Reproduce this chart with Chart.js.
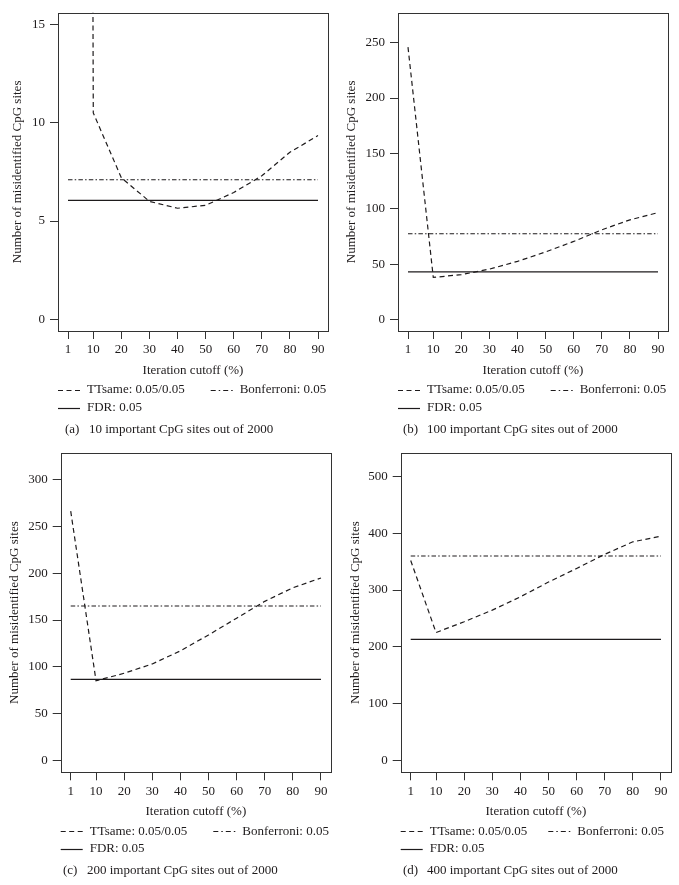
<!DOCTYPE html>
<html>
<head>
<meta charset="utf-8">
<script src="https://cdn.jsdelivr.net/npm/chart.js@4.4.1/dist/chart.umd.min.js"></script>
<style>
    body { margin: 0; background: #ffffff; width: 679px; height: 885px; position: relative; overflow: hidden; }
    canvas { position: absolute; }
</style>
</head>
<body>
<canvas id="chartA" width="340" height="440" style="left:0;top:0"></canvas>
<canvas id="chartB" width="339" height="440" style="left:340px;top:0"></canvas>
<canvas id="chartC" width="340" height="445" style="left:0;top:440px"></canvas>
<canvas id="chartD" width="339" height="445" style="left:340px;top:440px"></canvas>
<script>
// ===== DATA =====
const iterationCutoff = [1, 10, 20, 30, 40, 50, 60, 70, 80, 90];
const xTickValues = [1, 10, 20, 30, 40, 50, 60, 70, 80, 90];
const lineSpan = [1, 90];
const seriesLabels = ['TTsame: 0.05/0.05', 'Bonferroni: 0.05', 'FDR: 0.05'];

// (a) 10 important sites
const ttsameA = [420, 10.5, 7.2, 6.0, 5.65, 5.8, 6.45, 7.3, 8.5, 9.35];
const bonferroniA = [7.1, 7.1];
const fdrA = [6.05, 6.05];
const yTicksA = [0, 5, 10, 15];

// (b) 100 important sites
const ttsameB = [246, 38, 40.5, 45.5, 52.5, 61, 70.5, 81, 90, 96.5];
const bonferroniB = [77.4, 77.4];
const fdrB = [43, 43];
const yTicksB = [0, 50, 100, 150, 200, 250];

// (c) 200 important sites
const ttsameC = [266.5, 85, 93, 103, 117, 134, 152, 170, 184.5, 195];
const bonferroniC = [165, 165];
const fdrC = [86.5, 86.5];
const yTicksC = [0, 50, 100, 150, 200, 250, 300];

// (d) 400 important sites
const ttsameD = [352, 225, 244, 264.5, 288, 314, 338, 363, 385, 395];
const bonferroniD = [360, 360];
const fdrD = [213, 213];
const yTicksD = [0, 100, 200, 300, 400, 500];

const INK = '#1e1b1c';
const FRAME = '#333333';
const FONT = { family: '"Liberation Serif", "DejaVu Serif", serif', size: 13 };
const X_AXIS_H = 48;
const DASH_TT = [5, 3.5];
const DASH_BONF = [4.5, 2.2, 1.5, 2.2];

// box round the plot, legend and caption under it
const framePlugin = {
    id: 'frame',
    afterDraw(chart) {
        const { ctx, chartArea: { left, top, right, bottom } } = chart;
        const opts = chart.options.plugins.frame;
        ctx.save();
        ctx.strokeStyle = FRAME;
        ctx.lineWidth = 1;
        const l = Math.round(left) + 0.5, t = Math.round(top) + 0.5;
        ctx.strokeRect(l, t, Math.round(right) - Math.round(left), Math.round(bottom) - Math.round(top));

        ctx.font = FONT.size + 'px ' + FONT.family;
        ctx.fillStyle = INK;
        ctx.textBaseline = 'middle';
        ctx.textAlign = 'left';
        const slots = [
            { x: left, y: bottom + 59 },
            { x: left + opts.secondX, y: bottom + 59 },
            { x: left, y: bottom + 76.5 }
        ];
        chart.data.datasets.forEach((ds, i) => {
            const s = slots[i];
            ctx.beginPath();
            ctx.strokeStyle = INK;
            ctx.lineWidth = 1.2;
            ctx.setLineDash(i === 1 ? [5, 3, 1.5, 3] : (ds.borderDash || []));
            ctx.moveTo(s.x, Math.round(s.y) + 0.5);
            ctx.lineTo(s.x + 22, Math.round(s.y) + 0.5);
            ctx.stroke();
            ctx.setLineDash([]);
            ctx.fillText(ds.label, s.x + 29, s.y);
        });

        ctx.fillText(opts.tag, opts.captionX, bottom + 98.5);
        ctx.fillText(opts.caption, opts.captionX + 24, bottom + 98.5);
        ctx.restore();
    }
};

function makePanel(id, p) {
    const canvas = document.getElementById(id);
    const W = canvas.width, H = canvas.height;
    const pts = (xs, ys) => xs.map((x, i) => ({ x: x, y: ys[i] }));

    new Chart(canvas, {
        type: 'line',
        data: {
            datasets: [
                {
                    label: seriesLabels[0],
                    data: pts(iterationCutoff, p.ttsame),
                    borderColor: INK, borderWidth: 1.2, borderDash: DASH_TT,
                    pointRadius: 0, tension: 0, fill: false
                },
                {
                    label: seriesLabels[1],
                    data: pts(lineSpan, p.bonferroni),
                    borderColor: INK, borderWidth: 1.1, borderDash: DASH_BONF,
                    pointRadius: 0, fill: false
                },
                {
                    label: seriesLabels[2],
                    data: pts(lineSpan, p.fdr),
                    borderColor: INK, borderWidth: 1.2,
                    pointRadius: 0, fill: false
                }
            ]
        },
        options: {
            responsive: false,
            animation: false,
            events: [],
            layout: {
                padding: {
                    left: 0,
                    top: p.area.top,
                    right: W - p.area.right,
                    bottom: H - p.area.bottom - X_AXIS_H
                }
            },
            plugins: {
                legend: { display: false },
                tooltip: { enabled: false },
                frame: { secondX: p.secondX, captionX: p.captionX, tag: p.tag, caption: p.caption }
            },
            scales: {
                x: {
                    type: 'linear',
                    min: -2.56,
                    max: 93.56,
                    afterBuildTicks: (s) => { s.ticks = xTickValues.map(v => ({ value: v })); },
                    afterFit: (s) => { s.height = X_AXIS_H; },
                    border: { display: false },
                    grid: { display: true, drawOnChartArea: false, drawTicks: true, tickLength: 8, color: FRAME },
                    ticks: { font: FONT, color: INK, padding: 3, maxRotation: 0, autoSkip: false },
                    title: { display: true, text: 'Iteration cutoff (%)', font: FONT, color: INK, padding: { top: 0, bottom: 1 } }
                },
                y: {
                    type: 'linear',
                    min: p.yMin,
                    max: p.yMax,
                    afterBuildTicks: (s) => { s.ticks = p.yTicks.map(v => ({ value: v })); },
                    afterFit: (s) => { s.width = p.area.left; },
                    border: { display: false },
                    grid: { display: true, drawOnChartArea: false, drawTicks: true, tickLength: 8, color: FRAME },
                    ticks: { font: FONT, color: INK, padding: 5 },
                    title: { display: true, text: 'Number of misidentified CpG sites', font: FONT, color: INK, padding: { top: p.titlePad, bottom: 0 } }
                }
            }
        },
        plugins: [framePlugin]
    });
}

makePanel('chartA', {
    ttsame: ttsameA, bonferroni: bonferroniA, fdr: fdrA, yTicks: yTicksA,
    yMin: -0.6, yMax: 15.6,
    area: { left: 58, top: 8, right: 328, bottom: 331 },
    titlePad: 10, secondX: 152.7, captionX: 65,
    tag: '(a)', caption: '10 important CpG sites out of 2000'
});

makePanel('chartB', {
    ttsame: ttsameB, bonferroni: bonferroniB, fdr: fdrB, yTicks: yTicksB,
    yMin: -10.4, yMax: 277,
    area: { left: 58, top: 8, right: 328, bottom: 331 },
    titlePad: 4, secondX: 152.7, captionX: 63,
    tag: '(b)', caption: '100 important CpG sites out of 2000'
});

makePanel('chartC', {
    ttsame: ttsameC, bonferroni: bonferroniC, fdr: fdrC, yTicks: yTicksC,
    yMin: -13, yMax: 329,
    area: { left: 60.7, top: 9.3, right: 331, bottom: 332.3 },
    titlePad: 7, secondX: 152.6, captionX: 63,
    tag: '(c)', caption: '200 important CpG sites out of 2000'
});

makePanel('chartD', {
    ttsame: ttsameD, bonferroni: bonferroniD, fdr: fdrD, yTicks: yTicksD,
    yMin: -21.5, yMax: 542,
    area: { left: 60.7, top: 9.3, right: 331, bottom: 332.3 },
    titlePad: 7.5, secondX: 147.6, captionX: 63,
    tag: '(d)', caption: '400 important CpG sites out of 2000'
});
</script>
</body>
</html>
